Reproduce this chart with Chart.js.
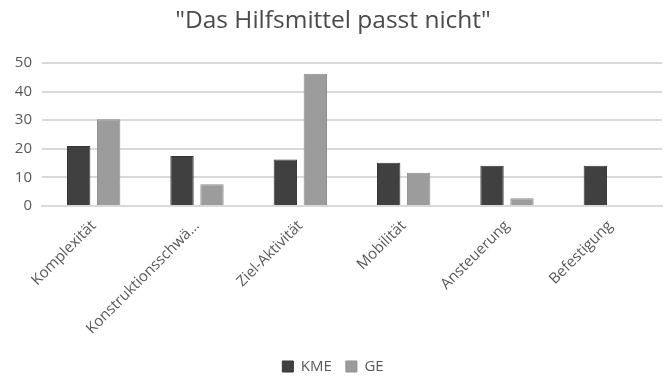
<!DOCTYPE html>
<html>
<head>
<meta charset="utf-8">
<script src="https://cdn.jsdelivr.net/npm/chart.js@4"></script>
<style>
  html, body { margin: 0; padding: 0; background: #ffffff; }
  #wrap { width: 666px; height: 376px; }
</style>
</head>
<body>
<div id="wrap"><canvas id="chart" width="666" height="376"></canvas></div>
<script>
const categories = ["Komplexität", "Konstruktionsschwä…", "Ziel-Aktivität", "Mobilität", "Ansteuerung", "Befestigung"];
const kmeValues = [21, 17.5, 16.3, 15.1, 14.1, 14.1];
const geValues = [30.3, 7.6, 46.2, 11.6, 2.7, 0];
const yTicks = [0, 10, 20, 30, 40, 50];

const FONT = "'Open Sans', 'Noto Sans', sans-serif";
const TEXT = "#595959";

new Chart(document.getElementById("chart"), {
  type: "bar",
  data: {
    labels: categories,
    datasets: [
      { label: "KME", data: kmeValues, backgroundColor: "#404040", borderColor: "#353535", borderWidth: 1,
        categoryPercentage: 0.58, barPercentage: 0.78 },
      { label: "GE", data: geValues, backgroundColor: "#9c9c9c", borderColor: "#8f8f8f", borderWidth: 1,
        categoryPercentage: 0.58, barPercentage: 0.78 }
    ]
  },
  options: {
    responsive: false,
    animation: false,
    devicePixelRatio: 1,
    layout: { padding: { left: 4, right: 4, top: 6, bottom: -8 } },
    plugins: {
      title: {
        display: true,
        text: "\"Das Hilfsmittel passt nicht\"",
        color: "#4a4a4a",
        font: { family: FONT, size: 24.5, weight: "normal" },
        padding: { top: 0, bottom: 27.6 }
      },
      legend: {
        position: "bottom",
        labels: {
          color: TEXT,
          font: { family: FONT, size: 15 },
          boxWidth: 11,
          boxHeight: 11,
          padding: 14
        }
      },
      tooltip: { enabled: false }
    },
    scales: {
      x: {
        grid: { display: false },
        border: { display: true, color: "#d9d9d9", width: 2 },
        ticks: {
          color: TEXT,
          font: { family: FONT, size: 15 },
          maxRotation: 45,
          minRotation: 45,
          autoSkip: false
        },
        afterFit: (scale) => { scale.height = 139; }
      },
      y: {
        min: 0,
        max: 50,
        afterBuildTicks: (scale) => { scale.ticks = yTicks.map(v => ({ value: v })); },
        grid: { color: "#d9d9d9", lineWidth: 2, drawTicks: false },
        border: { display: false },
        ticks: {
          color: TEXT,
          font: { family: FONT, size: 15 },
          padding: 10
        },
        afterFit: (scale) => { scale.width = 38; }
      }
    }
  }
});
</script>
</body>
</html>
